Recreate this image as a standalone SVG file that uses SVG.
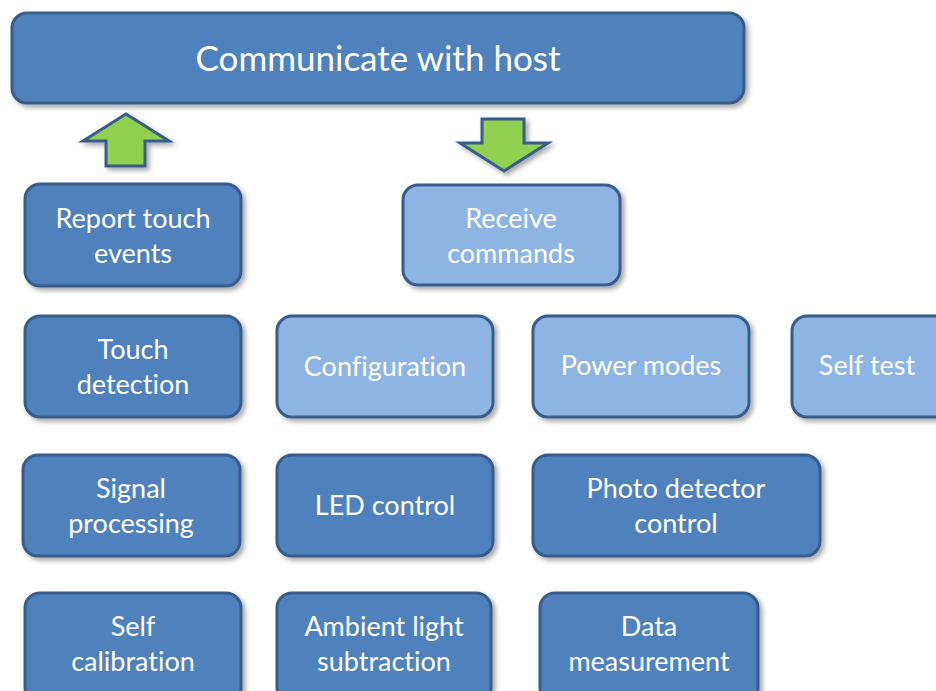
<svg xmlns="http://www.w3.org/2000/svg" width="936" height="691" viewBox="0 0 936 691">
<defs>
<filter id="sh" x="-10%" y="-10%" width="130%" height="140%">
<feDropShadow dx="3" dy="3" stdDeviation="2.5" flood-color="#000" flood-opacity="0.35"/>
</filter>
<style>
.dk{fill:#4F81BD;stroke:#385D8A;stroke-width:3;filter:url(#sh)}
.lt{fill:#8EB4E3;stroke:#385D8A;stroke-width:3;filter:url(#sh)}
.ar{fill:#92D050;stroke:#385D8A;stroke-width:3;stroke-linejoin:miter;filter:url(#sh)}
text{font-family:Lato,"Open Sans","Liberation Sans",sans-serif;fill:#fff;font-size:27px;text-anchor:middle;dominant-baseline:central;font-variant-ligatures:none}
.big{font-size:35px}
</style>
</defs>
<rect width="936" height="691" fill="#fff"/>
<g id="host"><rect class="dk" x="12" y="13" width="732" height="90" rx="15"/><text class="big" x="378" y="57">Communicate with host</text></g>
<g id="connectors">
<polygon class="ar" points="126,114 169,141 145,141 145,166 106,166 106,141 83,141"/>
<polygon class="ar" points="504,171 548,143 524,143 524,119 482,119 482,143 460,143"/>
</g>
<g id="report"><rect class="dk" x="25" y="184" width="216" height="102" rx="15"/><text x="133" y="217">Report touch</text><text x="133" y="252">events</text></g>
<g id="receive"><rect class="lt" x="403" y="185" width="217" height="100" rx="15"/><text x="511" y="217">Receive</text><text x="511" y="252">commands</text></g>
<g id="touch"><rect class="dk" x="25" y="316" width="216" height="101" rx="15"/><text x="133" y="348">Touch</text><text x="133" y="383">detection</text></g>
<g id="config"><rect class="lt" x="277" y="316" width="216" height="101" rx="15"/><text x="385" y="365">Configuration</text></g>
<g id="power"><rect class="lt" x="533" y="316" width="216" height="101" rx="15"/><text x="641" y="364">Power modes</text></g>
<g id="selftest"><rect class="lt" x="792" y="316" width="160" height="101" rx="15"/><text x="867" y="364">Self test</text></g>
<g id="signal"><rect class="dk" x="23" y="455" width="217" height="101" rx="15"/><text x="131" y="487">Signal</text><text x="131" y="522">processing</text></g>
<g id="led"><rect class="dk" x="277" y="455" width="216" height="101" rx="15"/><text x="385" y="504">LED control</text></g>
<g id="photo"><rect class="dk" x="533" y="455" width="287" height="101" rx="15"/><text x="676" y="487">Photo detector</text><text x="676" y="522">control</text></g>
<g id="selfcal"><rect class="dk" x="25" y="593" width="216" height="110" rx="15"/><text x="133" y="625">Self</text><text x="133" y="660">calibration</text></g>
<g id="ambient"><rect class="dk" x="277" y="593" width="214" height="110" rx="15"/><text x="384" y="625">Ambient light</text><text x="384" y="660">subtraction</text></g>
<g id="data"><rect class="dk" x="540" y="593" width="218" height="110" rx="15"/><text x="649" y="625">Data</text><text x="649" y="660">measurement</text></g>
</svg>
